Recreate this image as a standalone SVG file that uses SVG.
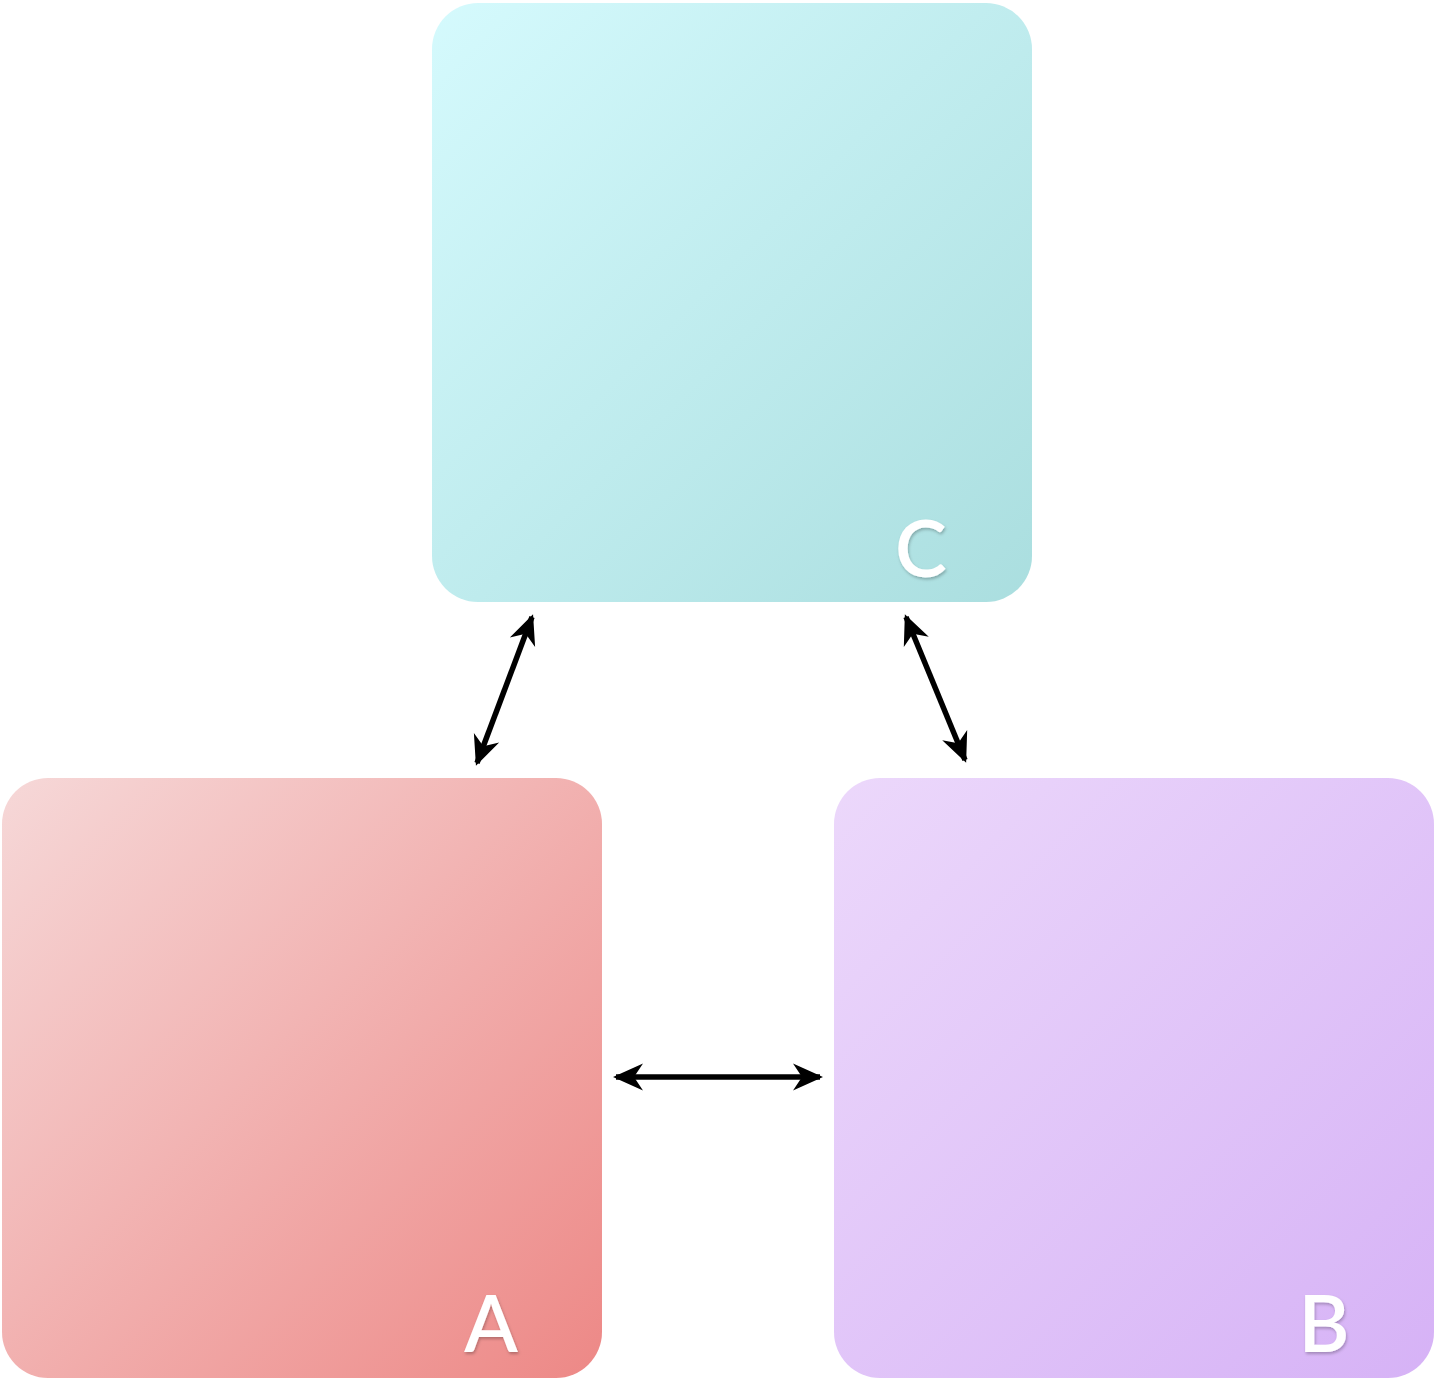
<svg xmlns="http://www.w3.org/2000/svg" width="1436" height="1380" viewBox="0 0 1436 1380">
<defs>
<linearGradient id="gC" x1="0" y1="0" x2="1" y2="1"><stop offset="0" stop-color="#d5fafd"/><stop offset="1" stop-color="#aadedf"/></linearGradient>
<linearGradient id="gA" x1="0" y1="0" x2="1" y2="1"><stop offset="0" stop-color="#f6d8d8"/><stop offset="1" stop-color="#ed8886"/></linearGradient>
<linearGradient id="gB" x1="0" y1="0" x2="1" y2="1"><stop offset="0" stop-color="#ecd8fb"/><stop offset="1" stop-color="#d6b2f6"/></linearGradient>
<filter id="sh" x="-20%" y="-20%" width="140%" height="140%"><feDropShadow dx="1" dy="2" stdDeviation="1.5" flood-color="#000" flood-opacity="0.25"/></filter>
<marker id="ah" viewBox="0 0 10 10" refX="9" refY="5" markerWidth="30" markerHeight="30" markerUnits="userSpaceOnUse" orient="auto-start-reverse"><path d="M0,0.5 L10,5 L0,9.5 L3,5 z" fill="#000"/></marker>
</defs>
<style>
.lbl{font-family:"Lato","Open Sans",sans-serif;font-weight:600;font-size:78px;fill:#fff;text-anchor:middle;filter:url(#sh)}
.con{stroke:#000;stroke-width:5.5;fill:none;marker-start:url(#ah);marker-end:url(#ah)}
</style>
<g id="node-C"><rect x="432" y="3" width="600" height="599" rx="46" fill="url(#gC)"/><text class="lbl" x="921" y="577">C</text></g>
<g id="node-A"><rect x="2" y="778" width="600" height="600" rx="46" fill="url(#gA)"/><text class="lbl" x="491" y="1352">A</text></g>
<g id="node-B"><rect x="834" y="778" width="600" height="600" rx="46" fill="url(#gB)"/><text class="lbl" x="1324" y="1352">B</text></g>
<g id="connectors">
<line class="con" x1="532" y1="617" x2="477" y2="763"/>
<line class="con" x1="906" y1="617" x2="965" y2="760"/>
<line class="con" x1="616" y1="1077" x2="820" y2="1077"/>
</g>
</svg>
